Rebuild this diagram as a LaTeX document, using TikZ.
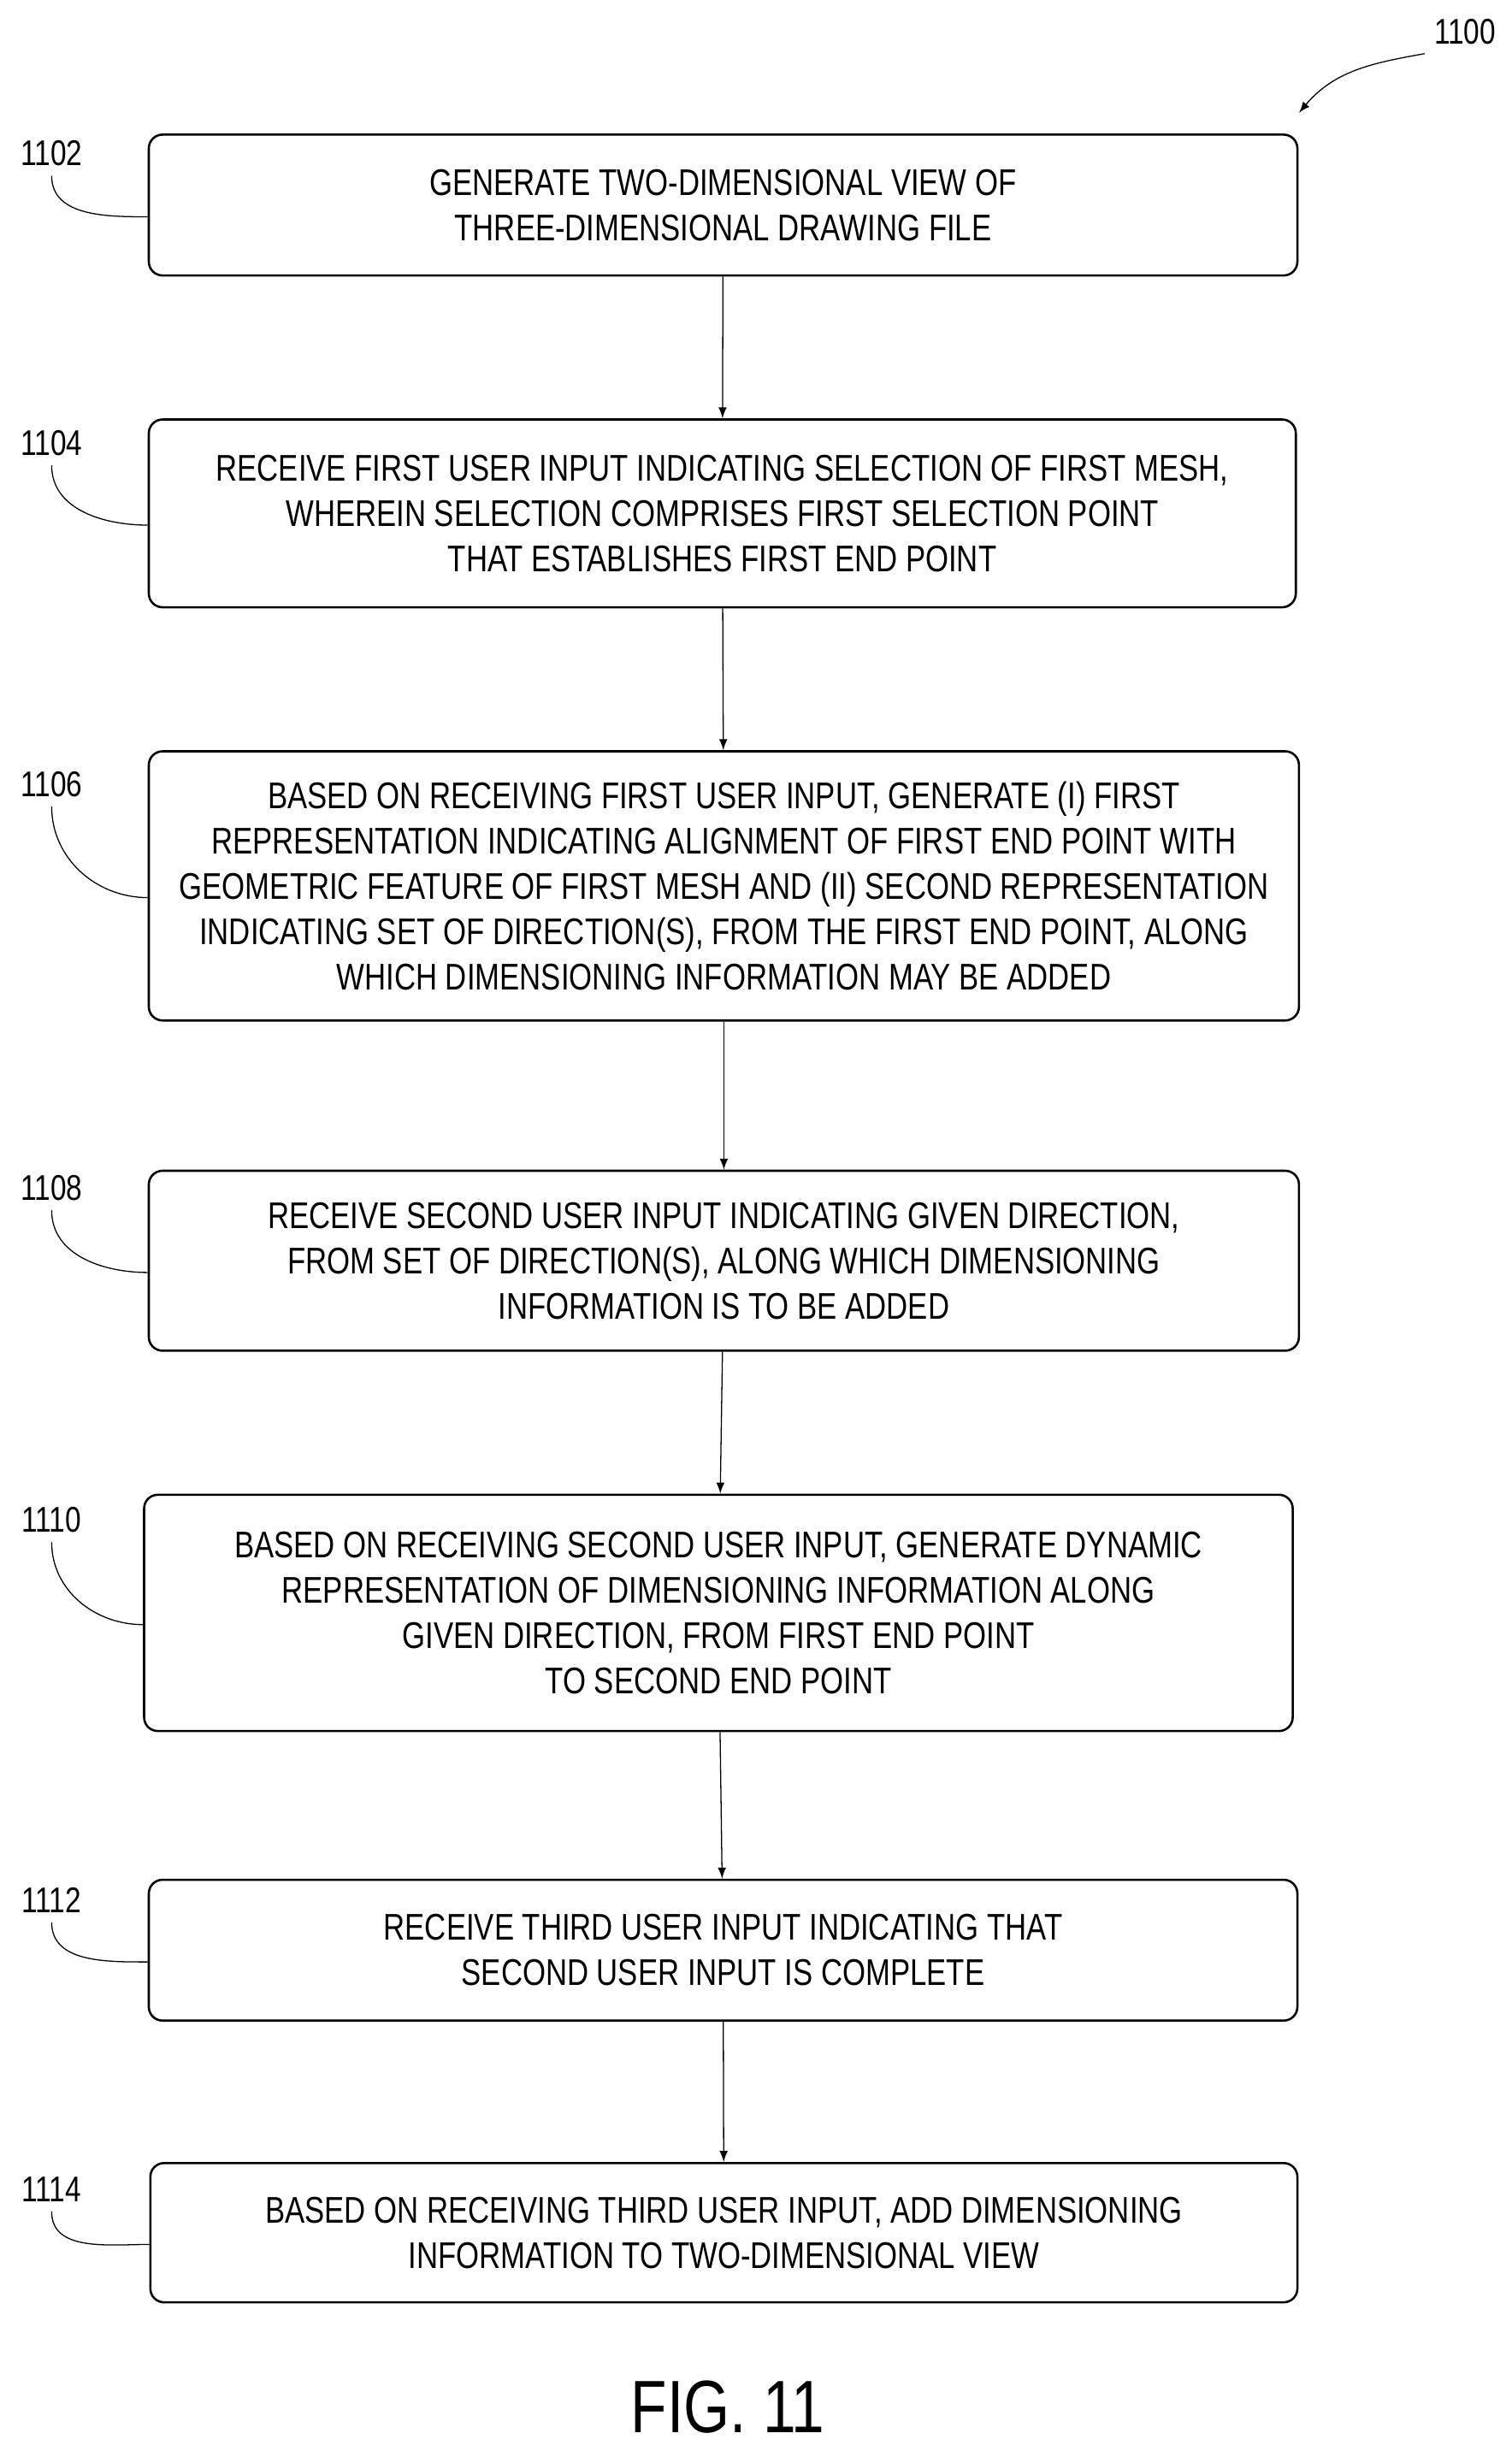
\documentclass[tikz,border=0pt]{standalone}
\usepackage{fontspec}
\setmainfont[FakeStretch=0.8]{Liberation Sans}
\usetikzlibrary{positioning}
\begin{document}
\begin{tikzpicture}[x=0.02cm,y=-0.02cm,
    flowbox/.style={draw,thick,rounded corners=5pt,align=center,inner sep=0pt,font=\fontsize{13.5}{16.5}\selectfont},
    ref/.style={font=\fontsize{13}{15}\selectfont},
    lead/.style={thin}]
  \useasboundingbox (0,0) rectangle (966,1566);

  % Steps
  \node[flowbox,minimum width=14.68cm,minimum height=1.8cm] (b1) at (462,131) {GENERATE TWO-DIMENSIONAL VIEW OF\\THREE-DIMENSIONAL DRAWING FILE};
  \node[flowbox,minimum width=14.66cm,minimum height=2.4cm] (b2) at (461.5,328) {RECEIVE FIRST USER INPUT INDICATING SELECTION OF FIRST MESH,\\WHEREIN SELECTION COMPRISES FIRST SELECTION POINT\\THAT ESTABLISHES FIRST END POINT};
  \node[flowbox,minimum width=14.7cm,minimum height=3.44cm] (b3) at (462.5,566) {BASED ON RECEIVING FIRST USER INPUT, GENERATE (I) FIRST\\REPRESENTATION INDICATING ALIGNMENT OF FIRST END POINT WITH\\GEOMETRIC FEATURE OF FIRST MESH AND (II) SECOND REPRESENTATION\\INDICATING SET OF DIRECTION(S), FROM THE FIRST END POINT, ALONG\\WHICH DIMENSIONING INFORMATION MAY BE ADDED};
  \node[flowbox,minimum width=14.7cm,minimum height=2.3cm] (b4) at (462.5,805.5) {RECEIVE SECOND USER INPUT INDICATING GIVEN DIRECTION,\\FROM SET OF DIRECTION(S), ALONG WHICH DIMENSIONING\\INFORMATION IS TO BE ADDED};
  \node[flowbox,minimum width=14.68cm,minimum height=3.02cm] (b5) at (459,1030.5) {BASED ON RECEIVING SECOND USER INPUT, GENERATE DYNAMIC\\REPRESENTATION OF DIMENSIONING INFORMATION ALONG\\GIVEN DIRECTION, FROM FIRST END POINT\\TO SECOND END POINT};
  \node[flowbox,minimum width=14.68cm,minimum height=1.8cm] (b6) at (462,1246) {RECEIVE THIRD USER INPUT INDICATING THAT\\SECOND USER INPUT IS COMPLETE};
  \node[flowbox,minimum width=14.66cm,minimum height=1.78cm] (b7) at (462.5,1426.5) {BASED ON RECEIVING THIRD USER INPUT, ADD DIMENSIONING\\INFORMATION TO TWO-DIMENSIONAL VIEW};

  % Flow
  \foreach \a/\b in {b1/b2,b2/b3,b3/b4,b4/b5,b5/b6,b6/b7}
    \draw[->,>=latex] (\a) -- (\b);

  % Reference numerals
  \foreach \n/\y/\b in {1102/98/b1,1104/283/b2,1106/501/b3,1108/759/b4,1110/971/b5,1112/1214/b6,1114/1399/b7} {
    \node[ref] (l\n) at (33,\y) {\n};
    \draw[lead] (l\n.south) to[out=-90,in=180] ([yshift=-0.15cm]\b.west);
  }
  \node[ref] (l1100) at (936,20) {1100};
  \coordinate (t1100) at (830,72);
  \draw[->,>=latex] (l1100.south west) to[out=190,in=50] (t1100);

  % Figure label
  \node[font=\fontsize{27}{30}\selectfont] (fig) at (465,1538) {FIG. 11};
\end{tikzpicture}
\end{document}
